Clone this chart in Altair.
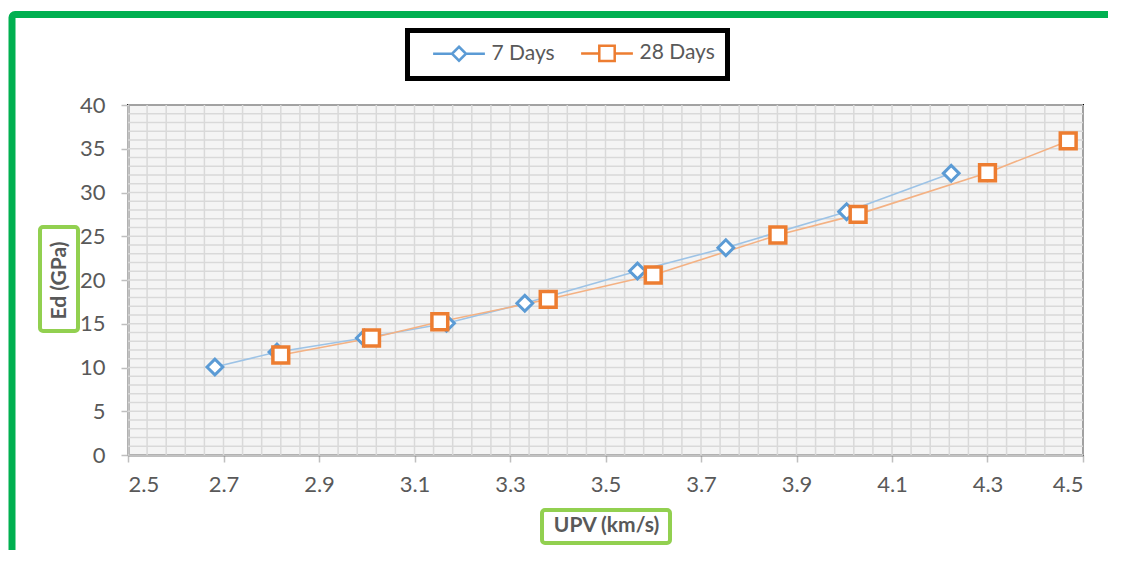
import altair as alt
import pandas as pd

# ---- data ----
upv_7 = [2.682, 2.812, 2.995, 3.167, 3.331, 3.567, 3.752, 4.005, 4.224]
ed_7 = [10.06, 11.77, 13.37, 15.05, 17.34, 21.03, 23.69, 27.81, 32.19]
upv_28 = [2.820, 3.010, 3.153, 3.380, 3.600, 3.861, 4.029, 4.300, 4.469]
ed_28 = [11.43, 13.37, 15.23, 17.79, 20.57, 25.14, 27.50, 32.26, 35.89]
series = ["7 Days", "28 Days"]
x_ticks = [2.5, 2.7, 2.9, 3.1, 3.3, 3.5, 3.7, 3.9, 4.1, 4.3, 4.5]
y_ticks = [0, 5, 10, 15, 20, 25, 30, 35, 40]
grid_x = [round(2.5 + 0.04 * i, 2) for i in range(51)]
grid_y = list(range(0, 41))

FONT = "Lato"
TXT = "#595959"
BLUE, BLUE_L = "#5b9bd5", "#9dc3e6"
ORANGE, ORANGE_L = "#ed7d31", "#f4b183"

df7 = pd.DataFrame({"upv": upv_7, "ed": ed_7, "series": "7 Days"})
df28 = pd.DataFrame({"upv": upv_28, "ed": ed_28, "series": "28 Days"})
df_all = pd.concat([df7, df28], ignore_index=True)

xs = alt.Scale(domain=[2.5, 4.5], nice=False, zero=False)
ys = alt.Scale(domain=[0, 40], nice=False)

xax = alt.Axis(values=x_ticks, format=".1f", title="UPV (km/s)", grid=False,
               labelFont=FONT, labelFontSize=22, labelColor=TXT, labelPadding=12,
               tickColor="#bfbfbf", tickSize=7, tickWidth=1.5,
               domainColor="#808080", domainWidth=2,
               titleFont=FONT, titleFontSize=21, titleFontWeight="bold", titleColor=TXT,
               titleX=478, titleY=70, titleBaseline="middle", titleAlign="center")
yax = alt.Axis(values=y_ticks, title="Ed (GPa)", grid=False,
               labelFont=FONT, labelFontSize=22, labelColor=TXT, labelPadding=16,
               tickColor="#bfbfbf", tickSize=7, tickWidth=1.5,
               domainColor="#808080", domainWidth=2,
               titleFont=FONT, titleFontSize=21, titleFontWeight="bold", titleColor=TXT,
               titleX=-69, titleY=175, titleAngle=270, titleBaseline="middle", titleAlign="center")


def X(f):
    return alt.X(f, scale=xs, axis=xax)


def Y(f):
    return alt.Y(f, scale=ys, axis=yax)


grid_v = alt.Chart(pd.DataFrame({"g": grid_x})).mark_rule(
    color="#d9d9d9", strokeWidth=1.5).encode(x=X("g:Q"))
grid_h = alt.Chart(pd.DataFrame({"g": grid_y})).mark_rule(
    color="#d9d9d9", strokeWidth=1.5).encode(y=Y("g:Q"))

line7 = alt.Chart(df7).mark_line(color=BLUE_L, strokeWidth=1.6).encode(
    x=X("upv:Q"), y=Y("ed:Q"), order="upv:Q")
line28 = alt.Chart(df28).mark_line(color=ORANGE_L, strokeWidth=1.6).encode(
    x=X("upv:Q"), y=Y("ed:Q"), order="upv:Q")
pts7 = alt.Chart(df7).mark_point(shape="diamond", size=250, filled=True, fill="white",
                                 stroke=BLUE, strokeWidth=3, opacity=1).encode(
    x=X("upv:Q"), y=Y("ed:Q"))
pts28 = alt.Chart(df28).mark_point(shape="square", size=250, filled=True, fill="white",
                                   stroke=ORANGE, strokeWidth=3.5, opacity=1).encode(
    x=X("upv:Q"), y=Y("ed:Q"))

# legend-only layer (clipped out of view); its symbols carry the line stubs
p7 = "M-3.7,0L-1,0M0,-1L1,0L0,1L-1,0ZM1,0L3.7,0"
p28 = "M-3.7,0L-1.1,0M-1.1,-1.1L1.1,-1.1L1.1,1.1L-1.1,1.1ZM1.1,0L3.7,0"
leg_props = dict(orient="none", legendX=279.5, legendY=-74.5, direction="horizontal",
                 title=None, symbolSize=196, symbolOffset=29, labelOffset=22,
                 columnPadding=12, padding=12)
legend_layer = alt.Chart(df_all).mark_point(clip=True, filled=True, fill="white", size=196,
                                            strokeWidth=2.5, opacity=1).encode(
    x=X("upv:Q"),
    y=alt.value(-5000),
    shape=alt.Shape("series:N", scale=alt.Scale(domain=series, range=[p7, p28]),
                    legend=alt.Legend(**leg_props)),
    stroke=alt.Stroke("series:N", scale=alt.Scale(domain=series, range=[BLUE, ORANGE]),
                      legend=alt.Legend(**leg_props)),
)

dummy = pd.DataFrame({"k": [0]})
frame = alt.Chart(dummy).mark_rect(filled=False, stroke="#00b050", strokeWidth=7,
                                   cornerRadius=3).encode(
    x=alt.value(-116), x2=alt.value(1100), y=alt.value(-90.5), y2=alt.value(600))
xbox = alt.Chart(dummy).mark_rect(filled=False, stroke="#92d050", strokeWidth=4,
                                  cornerRadius=3).encode(
    x=alt.value(414), x2=alt.value(542), y=alt.value(405), y2=alt.value(438))
ybox = alt.Chart(dummy).mark_rect(filled=False, stroke="#92d050", strokeWidth=4,
                                  cornerRadius=3).encode(
    x=alt.value(-88), x2=alt.value(-50), y=alt.value(122), y2=alt.value(226))

chart = alt.layer(grid_v, grid_h, line7, line28, pts7, pts28, legend_layer,
                  frame, xbox, ybox).properties(
    width=955, height=350,
    autosize=alt.AutoSizeParams(type="none"),
    padding={"left": 120, "top": 97, "right": 25, "bottom": 95},
    background="white",
).configure_view(
    fill="#f4f4f4", stroke="black", strokeWidth=2
).configure_legend(
    strokeColor="black", strokeWidth=5, labelFont=FONT, labelFontSize=21,
    labelColor=TXT, symbolFillColor="white", symbolStrokeWidth=2.5
)

chart.save("out.html", embed_options={"renderer": "svg", "actions": False})
